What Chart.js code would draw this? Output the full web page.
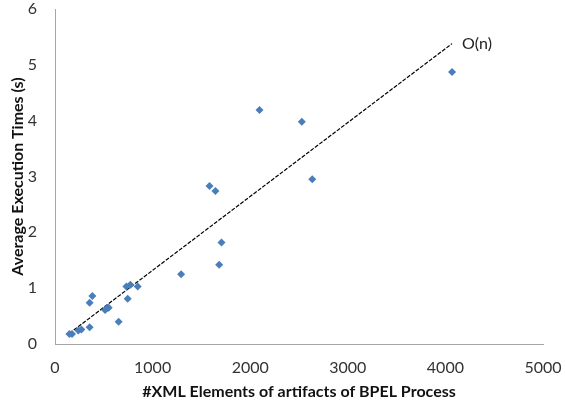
<!DOCTYPE html>
<html>
<head>
<meta charset="utf-8">
<script src="https://cdn.jsdelivr.net/npm/chart.js@4"></script>
<style>
    body { margin: 0; background: #fff; }
    #wrap { width: 565px; height: 410px; }
</style>
</head>
<body>
<div id="wrap"><canvas id="execChart" width="565" height="410"></canvas></div>
<script>
// #XML elements vs average execution time (s)
const xmlElements = [147, 174, 239, 270, 355, 355, 383, 513, 533, 550, 652, 731, 772, 745, 847,
    1292, 1583, 1644, 1706, 1682, 2095, 2529, 2636, 4068];
const execTimes = [0.18, 0.18, 0.24, 0.26, 0.30, 0.74, 0.86, 0.61, 0.64, 0.65, 0.40, 1.03, 1.06, 0.81, 1.03,
    1.25, 2.83, 2.74, 1.82, 1.42, 4.19, 3.98, 2.95, 4.87];

// O(n) trend line end points
const trendX = [147, 4068];
const trendY = [0.19, 5.38];
const trendLabel = 'O(n)';

const xTicks = [0, 1000, 2000, 3000, 4000, 5000];
const yTicks = [0, 1, 2, 3, 4, 5, 6];

const FONT = 'Lato, "Open Sans", sans-serif';

// writes "O(n)" next to the end of the trend line
const trendLabelPlugin = {
    id: 'trendLabel',
    afterDatasetsDraw(chart) {
        const ctx = chart.ctx;
        const x = chart.scales.x.getPixelForValue(trendX[trendX.length - 1]);
        const y = chart.scales.y.getPixelForValue(trendY[trendY.length - 1]);
        ctx.save();
        ctx.font = '16px ' + FONT;
        ctx.fillStyle = '#222';
        ctx.textAlign = 'left';
        ctx.textBaseline = 'middle';
        ctx.fillText(trendLabel, x + 10, y);
        ctx.restore();
    }
};

const ctx = document.getElementById('execChart').getContext('2d');
new Chart(ctx, {
    type: 'scatter',
    data: {
        datasets: [
            {
                label: 'Execution time',
                data: xmlElements.map((x, i) => ({ x: x, y: execTimes[i] })),
                pointStyle: 'rectRot',
                pointRadius: 4,
                pointHoverRadius: 4,
                backgroundColor: '#4a7ebb',
                borderColor: '#4a7ebb',
                borderWidth: 0
            },
            {
                label: trendLabel,
                data: trendX.map((x, i) => ({ x: x, y: trendY[i] })),
                showLine: true,
                borderColor: '#000',
                borderWidth: 1.2,
                borderDash: [4, 1.5],
                pointRadius: 0,
                fill: false
            }
        ]
    },
    options: {
        responsive: false,
        animation: false,
        events: [],
        layout: { padding: { top: 9, right: 22, bottom: 0, left: 0 } },
        plugins: {
            legend: { display: false },
            tooltip: { enabled: false }
        },
        scales: {
            x: {
                type: 'linear',
                min: 0,
                max: 5000,
                afterBuildTicks: axis => { axis.ticks = xTicks.map(v => ({ value: v })); },
                afterFit: axis => {
                    axis.height = 66;
                    axis.paddingLeft = 0;
                    axis.paddingRight = 0;
                },
                grid: { display: false, drawTicks: false },
                border: { display: true, color: '#a6a6a6', width: 1 },
                ticks: {
                    padding: 14,
                    color: '#333',
                    font: { family: FONT, size: 16 },
                    maxRotation: 0,
                    callback: v => String(v)
                },
                title: {
                    display: true,
                    text: '#XML Elements of artifacts of BPEL Process',
                    color: '#111',
                    font: { family: FONT, size: 16, weight: 'bold' },
                    padding: { top: 0, bottom: 9 }
                }
            },
            y: {
                type: 'linear',
                min: 0,
                max: 6,
                afterBuildTicks: axis => { axis.ticks = yTicks.map(v => ({ value: v })); },
                afterFit: axis => {
                    axis.width = 55;
                    axis.paddingTop = 0;
                    axis.paddingBottom = 0;
                },
                grid: { display: false, drawTicks: false },
                border: { display: true, color: '#a6a6a6', width: 1 },
                ticks: {
                    padding: 18,
                    color: '#333',
                    font: { family: FONT, size: 16 },
                    callback: v => String(v)
                },
                title: {
                    display: true,
                    text: 'Average Execution Times (s)',
                    color: '#111',
                    font: { family: FONT, size: 16, weight: 'bold' },
                    padding: { top: 8, bottom: 0 }
                }
            }
        }
    },
    plugins: [trendLabelPlugin]
});
</script>
</body>
</html>
